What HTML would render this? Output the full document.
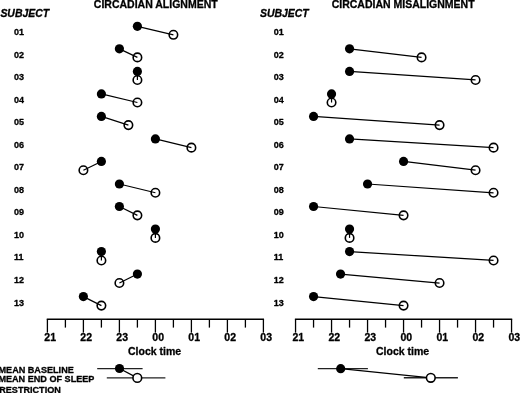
<!DOCTYPE html>
<html><head><meta charset="utf-8"><title>Circadian alignment vs misalignment</title>
<style>
html,body{margin:0;padding:0;background:#fff;overflow:hidden;width:520px;height:393px;}
svg{display:block;filter:blur(0.35px);}
text{font-family:"Liberation Sans",sans-serif;font-weight:bold;fill:#000;stroke:#000;stroke-width:0.3px;stroke-linejoin:round;}
.ttl{font-size:10.5px;}
.sub{font-size:10.45px;font-style:italic;}
.rl{font-size:9px;}
.ax{font-size:10.5px;}
.ct{font-size:10.5px;}
.lg{font-size:9.1px;}
</style>
</head><body>
<svg width="520" height="393" viewBox="0 0 520 393">
<rect width="520" height="393" fill="#fff"/>
<g id="labels">
<text class="ttl" x="93.80" y="7.75">CIRCADIAN ALIGNMENT</text>
<text class="ttl" x="331.70" y="7.75">CIRCADIAN MISALIGNMENT</text>
<text class="sub" x="0.40" y="16.60">SUBJECT</text>
<text class="sub" x="260.00" y="16.70">SUBJECT</text>
<text class="rl" x="13.95" y="34.99">01</text>
<text class="rl" x="13.95" y="57.54">02</text>
<text class="rl" x="13.95" y="80.08">03</text>
<text class="rl" x="13.95" y="102.62">04</text>
<text class="rl" x="13.95" y="125.17">05</text>
<text class="rl" x="13.95" y="147.72">06</text>
<text class="rl" x="13.95" y="170.26">07</text>
<text class="rl" x="13.95" y="192.81">08</text>
<text class="rl" x="13.95" y="215.35">09</text>
<text class="rl" x="13.95" y="237.90">10</text>
<text class="rl" x="13.95" y="260.44">11</text>
<text class="rl" x="13.95" y="282.99">12</text>
<text class="rl" x="13.95" y="305.53">13</text>
<text class="rl" x="273.75" y="34.99">01</text>
<text class="rl" x="273.75" y="57.54">02</text>
<text class="rl" x="273.75" y="80.08">03</text>
<text class="rl" x="273.75" y="102.62">04</text>
<text class="rl" x="273.75" y="125.17">05</text>
<text class="rl" x="273.75" y="147.72">06</text>
<text class="rl" x="273.75" y="170.26">07</text>
<text class="rl" x="273.75" y="192.81">08</text>
<text class="rl" x="273.75" y="215.35">09</text>
<text class="rl" x="273.75" y="237.90">10</text>
<text class="rl" x="273.75" y="260.44">11</text>
<text class="rl" x="273.75" y="282.99">12</text>
<text class="rl" x="273.75" y="305.53">13</text>
<text class="ax" x="50.20" y="341.40" text-anchor="middle">21</text>
<text class="ax" x="86.20" y="341.40" text-anchor="middle">22</text>
<text class="ax" x="122.20" y="341.40" text-anchor="middle">23</text>
<text class="ax" x="158.20" y="341.40" text-anchor="middle">00</text>
<text class="ax" x="194.20" y="341.40" text-anchor="middle">01</text>
<text class="ax" x="230.20" y="341.40" text-anchor="middle">02</text>
<text class="ax" x="266.20" y="341.40" text-anchor="middle">03</text>
<text class="ax" x="298.35" y="341.40" text-anchor="middle">21</text>
<text class="ax" x="334.35" y="341.40" text-anchor="middle">22</text>
<text class="ax" x="370.35" y="341.40" text-anchor="middle">23</text>
<text class="ax" x="406.35" y="341.40" text-anchor="middle">00</text>
<text class="ax" x="442.35" y="341.40" text-anchor="middle">01</text>
<text class="ax" x="478.35" y="341.40" text-anchor="middle">02</text>
<text class="ax" x="514.35" y="341.40" text-anchor="middle">03</text>
<text class="ct" x="128.00" y="354.75">Clock time</text>
<text class="ct" x="376.00" y="354.80">Clock time</text>
<text class="lg" x="-1.50" y="372.95">MEAN BASELINE</text>
<text class="lg" x="-1.60" y="381.85">MEAN END OF SLEEP</text>
<text class="lg" x="-0.80" y="392.60">RESTRICTION</text>
</g>
<g id="plot" stroke="#000" fill="none">
<line x1="137.40" y1="26.35" x2="173.40" y2="34.82" stroke-width="1.2"/>
<circle cx="173.40" cy="34.82" r="4.25" fill="none" stroke-width="1.6"/>
<circle cx="137.40" cy="26.35" r="4.6" fill="#000" stroke="none"/>
<line x1="119.40" y1="48.87" x2="137.40" y2="57.39" stroke-width="1.2"/>
<circle cx="137.40" cy="57.39" r="4.25" fill="none" stroke-width="1.6"/>
<circle cx="119.40" cy="48.87" r="4.6" fill="#000" stroke="none"/>
<line x1="137.40" y1="71.39" x2="137.40" y2="79.95" stroke-width="1.2"/>
<circle cx="137.40" cy="79.95" r="4.25" fill="none" stroke-width="1.6"/>
<circle cx="137.40" cy="71.39" r="4.6" fill="#000" stroke="none"/>
<line x1="101.40" y1="93.91" x2="137.40" y2="102.52" stroke-width="1.2"/>
<circle cx="137.40" cy="102.52" r="4.25" fill="none" stroke-width="1.6"/>
<circle cx="101.40" cy="93.91" r="4.6" fill="#000" stroke="none"/>
<line x1="101.40" y1="116.43" x2="128.40" y2="125.08" stroke-width="1.2"/>
<circle cx="128.40" cy="125.08" r="4.25" fill="none" stroke-width="1.6"/>
<circle cx="101.40" cy="116.43" r="4.6" fill="#000" stroke="none"/>
<line x1="155.40" y1="138.95" x2="191.40" y2="147.65" stroke-width="1.2"/>
<circle cx="191.40" cy="147.65" r="4.25" fill="none" stroke-width="1.6"/>
<circle cx="155.40" cy="138.95" r="4.6" fill="#000" stroke="none"/>
<line x1="101.40" y1="161.47" x2="83.40" y2="170.21" stroke-width="1.2"/>
<circle cx="83.40" cy="170.21" r="4.25" fill="none" stroke-width="1.6"/>
<circle cx="101.40" cy="161.47" r="4.6" fill="#000" stroke="none"/>
<line x1="119.40" y1="183.99" x2="155.40" y2="192.78" stroke-width="1.2"/>
<circle cx="155.40" cy="192.78" r="4.25" fill="none" stroke-width="1.6"/>
<circle cx="119.40" cy="183.99" r="4.6" fill="#000" stroke="none"/>
<line x1="119.40" y1="206.51" x2="137.40" y2="215.34" stroke-width="1.2"/>
<circle cx="137.40" cy="215.34" r="4.25" fill="none" stroke-width="1.6"/>
<circle cx="119.40" cy="206.51" r="4.6" fill="#000" stroke="none"/>
<line x1="155.40" y1="229.03" x2="155.40" y2="237.91" stroke-width="1.2"/>
<circle cx="155.40" cy="237.91" r="4.25" fill="none" stroke-width="1.6"/>
<circle cx="155.40" cy="229.03" r="4.6" fill="#000" stroke="none"/>
<line x1="101.40" y1="251.55" x2="101.40" y2="260.47" stroke-width="1.2"/>
<circle cx="101.40" cy="260.47" r="4.25" fill="none" stroke-width="1.6"/>
<circle cx="101.40" cy="251.55" r="4.6" fill="#000" stroke="none"/>
<line x1="137.40" y1="274.07" x2="119.40" y2="283.04" stroke-width="1.2"/>
<circle cx="119.40" cy="283.04" r="4.25" fill="none" stroke-width="1.6"/>
<circle cx="137.40" cy="274.07" r="4.6" fill="#000" stroke="none"/>
<line x1="83.40" y1="296.59" x2="101.40" y2="305.60" stroke-width="1.2"/>
<circle cx="101.40" cy="305.60" r="4.25" fill="none" stroke-width="1.6"/>
<circle cx="83.40" cy="296.59" r="4.6" fill="#000" stroke="none"/>
<line x1="349.55" y1="48.87" x2="421.55" y2="57.39" stroke-width="1.2"/>
<circle cx="421.55" cy="57.39" r="4.25" fill="none" stroke-width="1.6"/>
<circle cx="349.55" cy="48.87" r="4.6" fill="#000" stroke="none"/>
<line x1="349.55" y1="71.39" x2="475.55" y2="79.95" stroke-width="1.2"/>
<circle cx="475.55" cy="79.95" r="4.25" fill="none" stroke-width="1.6"/>
<circle cx="349.55" cy="71.39" r="4.6" fill="#000" stroke="none"/>
<line x1="331.55" y1="93.91" x2="331.55" y2="102.52" stroke-width="1.2"/>
<circle cx="331.55" cy="102.52" r="4.25" fill="none" stroke-width="1.6"/>
<circle cx="331.55" cy="93.91" r="4.6" fill="#000" stroke="none"/>
<line x1="313.55" y1="116.43" x2="439.55" y2="125.08" stroke-width="1.2"/>
<circle cx="439.55" cy="125.08" r="4.25" fill="none" stroke-width="1.6"/>
<circle cx="313.55" cy="116.43" r="4.6" fill="#000" stroke="none"/>
<line x1="349.55" y1="138.95" x2="493.55" y2="147.65" stroke-width="1.2"/>
<circle cx="493.55" cy="147.65" r="4.25" fill="none" stroke-width="1.6"/>
<circle cx="349.55" cy="138.95" r="4.6" fill="#000" stroke="none"/>
<line x1="403.55" y1="161.47" x2="475.55" y2="170.21" stroke-width="1.2"/>
<circle cx="475.55" cy="170.21" r="4.25" fill="none" stroke-width="1.6"/>
<circle cx="403.55" cy="161.47" r="4.6" fill="#000" stroke="none"/>
<line x1="367.55" y1="183.99" x2="493.55" y2="192.78" stroke-width="1.2"/>
<circle cx="493.55" cy="192.78" r="4.25" fill="none" stroke-width="1.6"/>
<circle cx="367.55" cy="183.99" r="4.6" fill="#000" stroke="none"/>
<line x1="313.55" y1="206.51" x2="403.55" y2="215.34" stroke-width="1.2"/>
<circle cx="403.55" cy="215.34" r="4.25" fill="none" stroke-width="1.6"/>
<circle cx="313.55" cy="206.51" r="4.6" fill="#000" stroke="none"/>
<line x1="349.55" y1="229.03" x2="349.55" y2="237.91" stroke-width="1.2"/>
<circle cx="349.55" cy="237.91" r="4.25" fill="none" stroke-width="1.6"/>
<circle cx="349.55" cy="229.03" r="4.6" fill="#000" stroke="none"/>
<line x1="349.55" y1="251.55" x2="493.55" y2="260.47" stroke-width="1.2"/>
<circle cx="493.55" cy="260.47" r="4.25" fill="none" stroke-width="1.6"/>
<circle cx="349.55" cy="251.55" r="4.6" fill="#000" stroke="none"/>
<line x1="340.55" y1="274.07" x2="439.55" y2="283.04" stroke-width="1.2"/>
<circle cx="439.55" cy="283.04" r="4.25" fill="none" stroke-width="1.6"/>
<circle cx="340.55" cy="274.07" r="4.6" fill="#000" stroke="none"/>
<line x1="313.55" y1="296.59" x2="403.55" y2="305.60" stroke-width="1.2"/>
<circle cx="403.55" cy="305.60" r="4.25" fill="none" stroke-width="1.6"/>
<circle cx="313.55" cy="296.59" r="4.6" fill="#000" stroke="none"/>
<line x1="46.75" y1="319.2" x2="264.05" y2="319.2" stroke-width="1.4"/>
<line x1="47.40" y1="319.2" x2="47.40" y2="332.6" stroke-width="1.3"/>
<line x1="65.40" y1="319.2" x2="65.40" y2="327.6" stroke-width="1.3"/>
<line x1="83.40" y1="319.2" x2="83.40" y2="332.6" stroke-width="1.3"/>
<line x1="101.40" y1="319.2" x2="101.40" y2="327.6" stroke-width="1.3"/>
<line x1="119.40" y1="319.2" x2="119.40" y2="332.6" stroke-width="1.3"/>
<line x1="137.40" y1="319.2" x2="137.40" y2="327.6" stroke-width="1.3"/>
<line x1="155.40" y1="319.2" x2="155.40" y2="332.6" stroke-width="1.3"/>
<line x1="173.40" y1="319.2" x2="173.40" y2="327.6" stroke-width="1.3"/>
<line x1="191.40" y1="319.2" x2="191.40" y2="332.6" stroke-width="1.3"/>
<line x1="209.40" y1="319.2" x2="209.40" y2="327.6" stroke-width="1.3"/>
<line x1="227.40" y1="319.2" x2="227.40" y2="332.6" stroke-width="1.3"/>
<line x1="245.40" y1="319.2" x2="245.40" y2="327.6" stroke-width="1.3"/>
<line x1="263.40" y1="319.2" x2="263.40" y2="332.6" stroke-width="1.3"/>
<line x1="294.90" y1="319.2" x2="512.20" y2="319.2" stroke-width="1.4"/>
<line x1="295.55" y1="319.2" x2="295.55" y2="332.6" stroke-width="1.3"/>
<line x1="313.55" y1="319.2" x2="313.55" y2="327.6" stroke-width="1.3"/>
<line x1="331.55" y1="319.2" x2="331.55" y2="332.6" stroke-width="1.3"/>
<line x1="349.55" y1="319.2" x2="349.55" y2="327.6" stroke-width="1.3"/>
<line x1="367.55" y1="319.2" x2="367.55" y2="332.6" stroke-width="1.3"/>
<line x1="385.55" y1="319.2" x2="385.55" y2="327.6" stroke-width="1.3"/>
<line x1="403.55" y1="319.2" x2="403.55" y2="332.6" stroke-width="1.3"/>
<line x1="421.55" y1="319.2" x2="421.55" y2="327.6" stroke-width="1.3"/>
<line x1="439.55" y1="319.2" x2="439.55" y2="332.6" stroke-width="1.3"/>
<line x1="457.55" y1="319.2" x2="457.55" y2="327.6" stroke-width="1.3"/>
<line x1="475.55" y1="319.2" x2="475.55" y2="332.6" stroke-width="1.3"/>
<line x1="493.55" y1="319.2" x2="493.55" y2="327.6" stroke-width="1.3"/>
<line x1="511.55" y1="319.2" x2="511.55" y2="332.6" stroke-width="1.3"/>
<line x1="97.2" y1="368.6" x2="142.6" y2="368.6" stroke="#222" stroke-width="1.4"/>
<line x1="106.8" y1="377.9" x2="165.4" y2="377.9" stroke="#222" stroke-width="1.4"/>
<line x1="119.5" y1="368.5" x2="137.3" y2="377.9" stroke-width="1.2"/>
<circle cx="137.3" cy="377.9" r="4.35" fill="#fff" stroke-width="1.6"/>
<circle cx="119.5" cy="368.5" r="4.6" fill="#000" stroke="none"/>
<line x1="317.8" y1="368.6" x2="367.9" y2="368.6" stroke="#222" stroke-width="1.4"/>
<line x1="403.8" y1="377.8" x2="457.9" y2="377.8" stroke="#222" stroke-width="1.4"/>
<line x1="340.7" y1="368.7" x2="430.8" y2="377.8" stroke-width="1.2"/>
<circle cx="430.8" cy="377.8" r="4.35" fill="#fff" stroke-width="1.6"/>
<circle cx="340.7" cy="368.7" r="4.6" fill="#000" stroke="none"/>
</g>
</svg>
</body></html>
